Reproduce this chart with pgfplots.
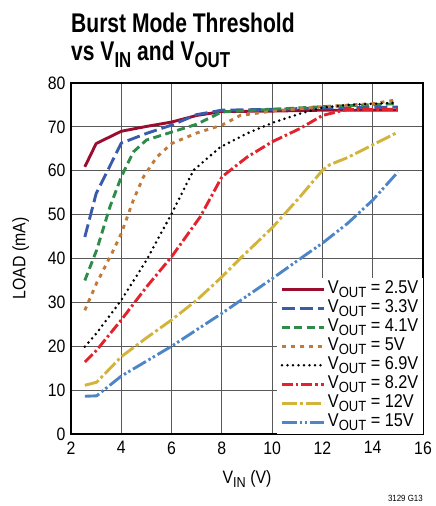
\documentclass[border=0pt]{standalone}
\usepackage{fontspec}
\setmainfont{Liberation Sans}[FakeStretch=0.88]
\newfontfamily\titlefont{Liberation Sans}[FakeStretch=0.78]
\usepackage{pgfplots}
\pgfplotsset{compat=1.18}

\definecolor{cMaroon}{HTML}{9B0D2E}
\definecolor{cBlue}{HTML}{3A5BAA}
\definecolor{cGreen}{HTML}{2E8B4A}
\definecolor{cOrange}{HTML}{C27A3A}
\definecolor{cRed}{HTML}{E3222D}
\definecolor{cYellow}{HTML}{D2B43C}
\definecolor{cLBlue}{HTML}{4D86C8}

% large lowered subscript, as in the datasheet
\newcommand\sub[1]{\raisebox{-0.25em}{\scalebox{0.8}{#1}}}

\begin{document}
\begin{tikzpicture}
\begin{axis}[
  scale only axis, width=352pt, height=351pt,
  xmin=2, xmax=16, ymin=0, ymax=80,
  xtick={2,4,...,16}, ytick={0,10,...,80},
  major tick length=0pt,
  grid=major,
  grid style={black!65, line width=1.2pt},
  axis line style={black, line width=1.3pt},
  tick label style={font=\fontsize{18}{18}\selectfont},
  /pgf/number format/assume math mode=true,
  xticklabel style={yshift=-4pt},
  yticklabel style={xshift=-2pt},
  xlabel={V\sub{IN} (V)},
  ylabel={LOAD (mA)},
  label style={font=\fontsize{18}{18}\selectfont},
  xlabel style={yshift=-9pt},
  ylabel style={yshift=12pt},
  clip=false,
  crv/.style={line width=2.9pt, line join=round},
  legend image code/.code={\draw[#1] (0pt,0pt) -- (42pt,0pt);},
  legend style={at={(1,0)}, anchor=south east, draw=none, fill=white,
    font=\fontsize{18.5}{18.5}\selectfont, inner xsep=4pt, inner ysep=2pt,
    nodes={inner sep=0.5pt, text height=13pt, text depth=5pt},
    cells={anchor=west}, column sep=2pt},
]
\addplot[crv, cMaroon] coordinates {(2.55,60.9) (3.0,66.2) (4,69) (5,70.1) (6,71.1) (7,72.6) (8,73.5) (10,73.6) (12,73.8) (15,73.8)};
\addlegendentry{V\sub{OUT} = 2.5V}
\addplot[crv, cBlue, dash pattern=on 13pt off 5pt] coordinates {(2.55,44.9) (3.0,54.8) (4,66.3) (5,68.5) (6,70.4) (7,72.8) (8,73.8) (10,74) (12,74.3) (15,74.5)};
\addlegendentry{V\sub{OUT} = 3.3V}
\addplot[crv, cGreen, dash pattern=on 8pt off 4.5pt] coordinates {(2.55,35) (2.89,40) (3.02,41.9) (3.55,51.8) (4,58.6) (4.48,64.3) (5,67) (6,68.8) (7,70.6) (8,73.4) (10,74) (12,74.6) (15,75.3)};
\addlegendentry{V\sub{OUT} = 4.1V}
\addplot[crv, cOrange, dash pattern=on 4pt off 5pt] coordinates {(2.55,28.2) (3.02,34.4) (3.62,41.1) (4,45.7) (4.48,53.3) (4.88,58.6) (5.41,63.1) (6,66.2) (7,68.6) (8,70.4) (8.73,72.6) (10,73.6) (12,74.6) (14,75.3) (15,76.2)};
\addlegendentry{V\sub{OUT} = 5V}
\addplot[crv, black, line width=2.8pt, line cap=round, dash pattern=on 0pt off 5.5pt] coordinates {(2.55,19.9) (3.02,23) (4,30.5) (5,39.6) (6,50.2) (6.87,60.1) (7.94,65.4) (9,68.5) (10,70.9) (11.1,73) (12,74.4) (13,75) (15,75.5)};
\addlegendentry{V\sub{OUT} = 6.9V}
\addplot[crv, cRed, dash pattern=on 11pt off 3pt on 2.5pt off 3pt] coordinates {(2.55,16.4) (3.02,19.1) (4,26) (5,33.5) (6,40.4) (7.14,49.5) (8,58.6) (9,63.1) (10,66.6) (11.1,69.6) (12,72.6) (13,74) (15,74)};
\addlegendentry{V\sub{OUT} = 8.2V}
\addplot[crv, cYellow, dash pattern=on 15pt off 3pt on 3pt off 3pt] coordinates {(2.55,11.1) (3.02,11.8) (4,17.6) (5,21.9) (6,26) (7,30.5) (8,35.8) (8.73,40) (10,47) (11.1,54) (12,60.1) (12.3,61.4) (13,63) (15,68.8)};
\addlegendentry{V\sub{OUT} = 12V}
\addplot[crv, cLBlue, dash pattern=on 15pt off 3pt on 2.5pt off 2.5pt on 2.5pt off 3pt] coordinates {(2.55,8.6) (3.02,8.7) (4,13.2) (6,20) (8,27.5) (10,35.4) (11.3,40.7) (12,43.5) (13,48) (14,53.3) (15,59.7)};
\addlegendentry{V\sub{OUT} = 15V}
% title and figure code
\node[anchor=base west, yshift=50pt, inner sep=0pt, font=\titlefont\bfseries\fontsize{27}{27}\selectfont] at (rel axis cs:0,1) {Burst Mode Threshold};
\node[anchor=base west, yshift=22pt, inner sep=0pt, font=\titlefont\bfseries\fontsize{27}{27}\selectfont] at (rel axis cs:0,1) {vs V\sub{IN} and V\sub{OUT}};
\node[anchor=base east, yshift=-67pt, inner sep=0pt, font=\fontsize{9}{9}\selectfont] at (rel axis cs:1,0) {3129 G13};
% page size
\path (rel axis cs:0,0) ++(-71pt,-72pt) (rel axis cs:1,1) ++(11pt,83pt);
\end{axis}
\end{tikzpicture}
\end{document}
